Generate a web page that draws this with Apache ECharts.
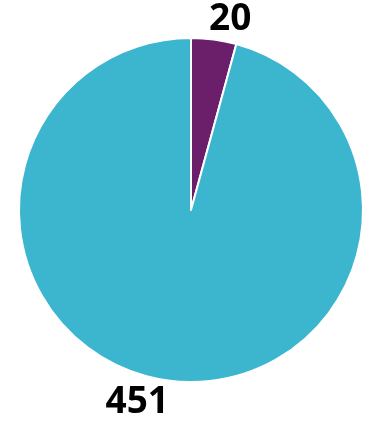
<!DOCTYPE html>
<html><head><meta charset="utf-8">
<script src="https://cdn.jsdelivr.net/npm/echarts@6/dist/echarts.min.js"></script>
<style>html,body{margin:0;padding:0;background:#fff}#c{width:370px;height:421px}</style>
</head><body><div id="c"></div>
<script>
const categories = ["A", "B"];
const values = [20, 451];
const colors = ["#6b1f6b", "#3cb5cf"];

const chart = echarts.init(document.getElementById('c'), null, {renderer: 'canvas'});
chart.setOption({
  animation: false,
  series: [{
    type: 'pie',
    center: [191, 210],
    radius: [0, 172],
    startAngle: 90,
    clockwise: true,
    data: categories.map((c, i) => ({name: c, value: values[i], itemStyle: {color: colors[i]}})),
    itemStyle: {borderColor: '#fff', borderWidth: 2},
    label: {
      show: true, position: 'outside', formatter: '{c}',
      fontFamily: 'Open Sans', fontWeight: 'bold', fontSize: 37, color: '#000'
    },
    labelLine: {show: false, length: 16, length2: 0},
    labelLayout: function (p) {
      return p.dataIndex === 0 ? {dx: -12, dy: -4} : {dx: 8, dy: 6};
    }
  }]
});
</script></body></html>
